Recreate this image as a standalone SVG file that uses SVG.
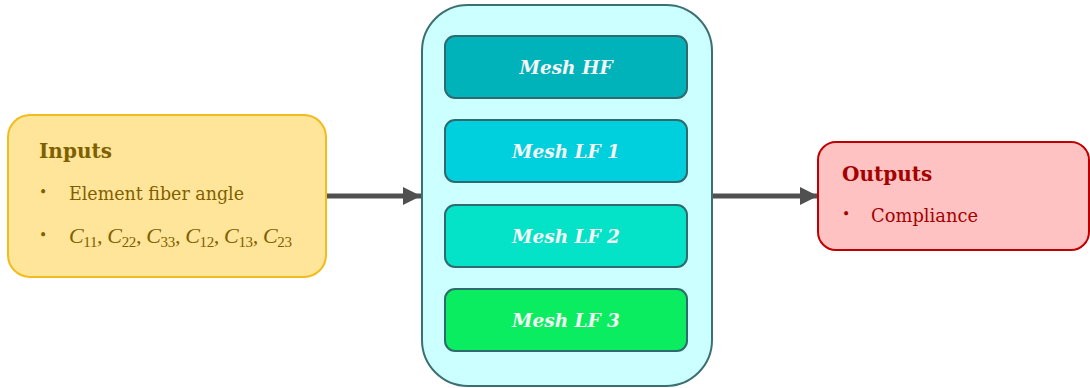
<svg xmlns="http://www.w3.org/2000/svg" width="1090" height="388" viewBox="0 0 1090 388">
  <style>
    .lbl { font-family: "DejaVu Serif", "Liberation Serif", serif; }
    .head { font-size: 20px; font-weight: bold; }
    .item { font-size: 19px; }
    .dot { font-size: 14px; }
    .mesh { font-family: "DejaVu Serif", "Liberation Serif", serif; font-size: 18.5px; font-weight: bold; font-style: italic; fill: #f4f4f4; text-anchor: middle; }
    .meshbox { stroke: #2f6b6e; stroke-width: 2; }
    .math { font-family: "Liberation Serif", "DejaVu Serif", serif; font-style: italic; font-size: 22px; }
    .sub { font-size: 15px; font-style: normal; }
    .conn { stroke: #505050; stroke-width: 5; fill: none; }
  </style>
  <defs>
    <marker id="arrow" markerUnits="userSpaceOnUse" markerWidth="20" markerHeight="20" refX="18" refY="9" orient="auto">
      <path d="M0,0 L18,9 L0,18 Z" fill="#505050"/>
    </marker>
  </defs>

  <g id="connectors">
    <line class="conn" x1="327" y1="196" x2="421" y2="196" marker-end="url(#arrow)"/>
    <line class="conn" x1="712" y1="196" x2="818" y2="196" marker-end="url(#arrow)"/>
  </g>

  <g id="inputs">
    <rect x="8" y="115" width="318" height="162" rx="22" fill="#ffe599" stroke="#f2bc1c" stroke-width="2"/>
    <text class="lbl head" x="39" y="158" fill="#7f6000">Inputs</text>
    <text class="lbl dot" x="39" y="197" fill="#7f6000">•</text>
    <text class="lbl item" x="69" y="200" fill="#7f6000" textLength="175" lengthAdjust="spacingAndGlyphs">Element fiber angle</text>
    <text class="lbl dot" x="39" y="240" fill="#7f6000">•</text>
    <text class="math" x="69" y="243" fill="#7f6000" textLength="223" lengthAdjust="spacing">C<tspan class="sub" dy="4">11</tspan><tspan dy="-4">, C</tspan><tspan class="sub" dy="4">22</tspan><tspan dy="-4">, C</tspan><tspan class="sub" dy="4">33</tspan><tspan dy="-4">, C</tspan><tspan class="sub" dy="4">12</tspan><tspan dy="-4">, C</tspan><tspan class="sub" dy="4">13</tspan><tspan dy="-4">, C</tspan><tspan class="sub" dy="4">23</tspan></text>
  </g>

  <g id="meshes">
    <rect x="422" y="5" width="290" height="381" rx="46" fill="#ccffff" stroke="#3b6f72" stroke-width="2"/>
  </g>

  <g id="mesh-hf">
    <rect class="meshbox" x="445" y="36" width="242" height="62" rx="10" fill="#00b3bb"/>
    <text class="mesh" x="566" y="74">Mesh HF</text>
  </g>
  <g id="mesh-lf1">
    <rect class="meshbox" x="445" y="120" width="242" height="62" rx="10" fill="#00cfdd"/>
    <text class="mesh" x="566" y="158">Mesh LF 1</text>
  </g>
  <g id="mesh-lf2">
    <rect class="meshbox" x="445" y="205" width="242" height="62" rx="10" fill="#04e2c8"/>
    <text class="mesh" x="566" y="243">Mesh LF 2</text>
  </g>
  <g id="mesh-lf3">
    <rect class="meshbox" x="445" y="289" width="242" height="62" rx="10" fill="#0aed60"/>
    <text class="mesh" x="566" y="327">Mesh LF 3</text>
  </g>

  <g id="outputs">
    <rect x="818" y="142" width="271" height="108" rx="18" fill="#ffc2c2" stroke="#c00000" stroke-width="2"/>
    <text class="lbl head" x="842" y="181" fill="#a50000">Outputs</text>
    <text class="lbl dot" x="842" y="219" fill="#a50000">•</text>
    <text class="lbl item" x="871" y="222" fill="#a50000" textLength="107" lengthAdjust="spacingAndGlyphs">Compliance</text>
  </g>
</svg>
